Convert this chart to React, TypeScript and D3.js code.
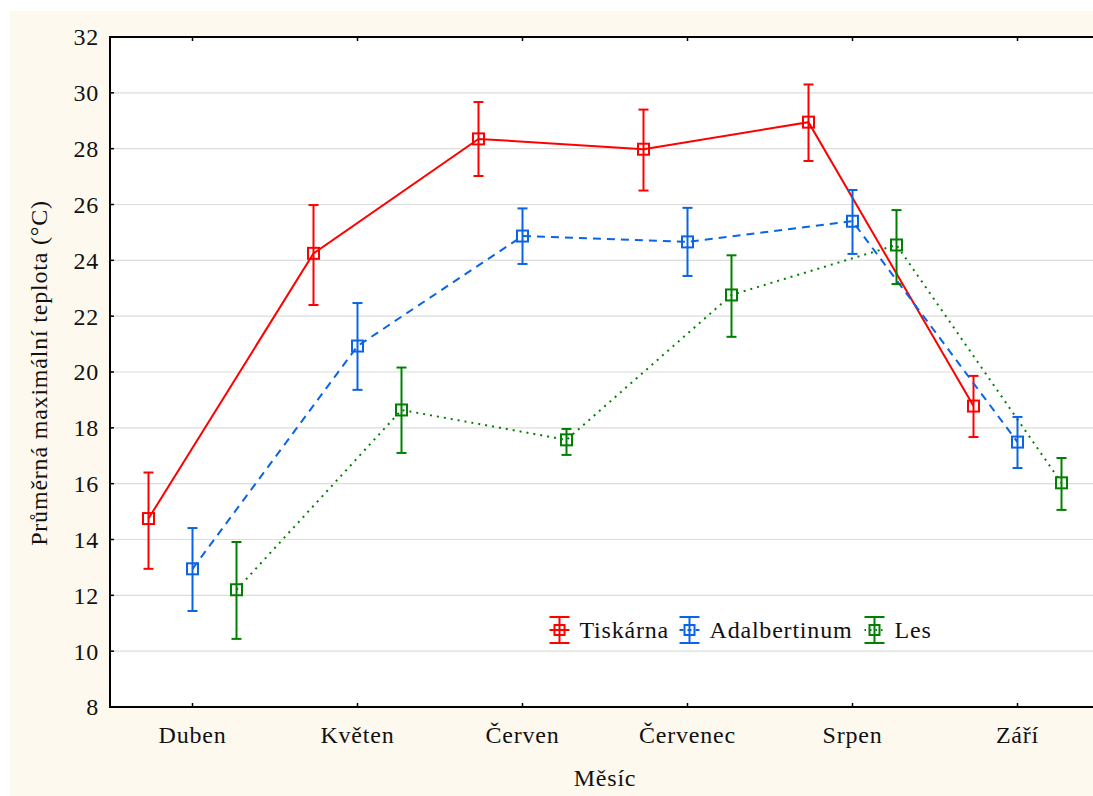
import React from 'react'
import * as d3 from 'd3'

const months = ['Duben', 'Květen', 'Červen', 'Červenec', 'Srpen', 'Září']
const seriesNames = ['Tiskárna', 'Adalbertinum', 'Les']
const yTicks = [8, 10, 12, 14, 16, 18, 20, 22, 24, 26, 28, 30, 32]

// mean, lower and upper end of the error bar per month
const tiskarnaMean = [14.75, 24.25, 28.35, 27.98, 28.95, 18.78]
const tiskarnaLow = [12.95, 22.4, 27.02, 26.5, 27.56, 17.67]
const tiskarnaHigh = [16.4, 25.98, 29.67, 29.4, 30.3, 19.86]

const adalbertinumMean = [12.95, 20.93, 24.87, 24.66, 25.4, 17.49]
const adalbertinumLow = [11.44, 19.36, 23.87, 23.44, 24.23, 16.56]
const adalbertinumHigh = [14.41, 22.47, 25.86, 25.88, 26.52, 18.39]

const lesMean = [12.2, 18.64, 17.57, 22.76, 24.55, 16.03]
const lesLow = [10.44, 17.1, 17.03, 21.26, 23.15, 15.06]
const lesHigh = [13.91, 20.16, 17.96, 24.18, 25.8, 16.92]

const colors = ['#ff0000', '#0a64e6', '#008000']
const dashes = ['none', '8,6', '2,5']

const W = 1093
const H = 796
const left = 110
const right = 1100
const top = 37
const bottom = 707
const txt = { fontFamily: "'Liberation Serif', 'Times New Roman', Times, serif", fontSize: 24, letterSpacing: 0.8 }

const App = () => {
  const x = d3.scaleBand().domain(months).range([left, right]).padding(0)
  const xs = d3.scalePoint().domain(seriesNames).range([-44, 44])
  const y = d3.scaleLinear().domain([8, 32]).range([bottom, top])

  const series = [
    { name: seriesNames[0], mean: tiskarnaMean, low: tiskarnaLow, high: tiskarnaHigh },
    { name: seriesNames[1], mean: adalbertinumMean, low: adalbertinumLow, high: adalbertinumHigh },
    { name: seriesNames[2], mean: lesMean, low: lesLow, high: lesHigh },
  ]

  const cx = (m: string, s: string) => (x(m) as number) + x.bandwidth() / 2 + (xs(s) as number)

  const line = d3.line<[number, number]>().x(d => d[0]).y(d => d[1])

  const legendX = [559.5, 689.5, 874.5]
  const legendY = 630

  return (
    <svg width={W} height={H} style={{ position: 'absolute', left: 0, top: 0, overflow: 'hidden' }}>
      <rect width={W + 20} height={H} fill="#fff" />
      <rect x={10} y={11} width={W + 10} height={H - 11} fill="#fdf9ef" />
      <rect x={left} y={top} width={right - left + 20} height={bottom - top} fill="#fff" />

      {yTicks.map(t => (
        <g key={t}>
          {t > 8 && t < 32 && (
            <line x1={left} x2={right + 20} y1={y(t)} y2={y(t)} stroke="#dcdcdc" strokeWidth={1.2} />
          )}
          <line x1={left} x2={left + 4} y1={y(t)} y2={y(t)} stroke="#000" strokeWidth={1.5} />
          <text x={left - 11} y={y(t)} dy="0.35em" textAnchor="end" fill="#111" style={txt}>
            {t}
          </text>
        </g>
      ))}

      {months.map(m => {
        const c = (x(m) as number) + x.bandwidth() / 2
        return (
          <g key={m}>
            <line x1={c} x2={c} y1={top} y2={top + 4} stroke="#000" strokeWidth={1.5} />
            <line x1={c} x2={c} y1={bottom} y2={bottom - 4} stroke="#000" strokeWidth={1.5} />
            <text x={c} y={743} textAnchor="middle" fill="#111" style={txt}>
              {m}
            </text>
          </g>
        )
      })}

      <path
        d={`M${right + 20},${top}H${left}V${bottom}H${right + 20}`}
        fill="none"
        stroke="#000"
        strokeWidth={2}
      />

      {series.map((s, i) => {
        const pts = months.map((m, j) => [cx(m, s.name), y(s.mean[j])] as [number, number])
        return (
          <g key={s.name} stroke={colors[i]} fill="none">
            <path d={line(pts) || ''} strokeWidth={2} strokeDasharray={dashes[i]} />
            {months.map((m, j) => {
              const px = cx(m, s.name)
              return (
                <g key={m} strokeWidth={2}>
                  <line x1={px} x2={px} y1={y(s.high[j])} y2={y(s.low[j])} />
                  <line x1={px - 5} x2={px + 5} y1={y(s.high[j])} y2={y(s.high[j])} />
                  <line x1={px - 5} x2={px + 5} y1={y(s.low[j])} y2={y(s.low[j])} />
                  <rect x={px - 5.5} y={y(s.mean[j]) - 5.5} width={11} height={11} />
                </g>
              )
            })}
          </g>
        )
      })}

      {series.map((s, i) => {
        const lx = legendX[i]
        return (
          <g key={s.name}>
            <g stroke={colors[i]} fill="none" strokeWidth={2}>
              <line x1={lx} x2={lx} y1={legendY - 13} y2={legendY + 13} />
              <line x1={lx - 10} x2={lx + 10} y1={legendY - 13} y2={legendY - 13} />
              <line x1={lx - 10} x2={lx + 10} y1={legendY + 13} y2={legendY + 13} />
              <line x1={lx - 10} x2={lx + 10} y1={legendY} y2={legendY} strokeDasharray={i === 0 ? 'none' : i === 1 ? '4,4' : '1.5,4'} />
              <rect x={lx - 5} y={legendY - 5} width={10} height={10} />
            </g>
            <text x={lx + 20} y={legendY} dy="0.35em" fill="#111" style={txt}>
              {s.name}
            </text>
          </g>
        )
      })}

      <text x={(left + right) / 2} y={786} textAnchor="middle" fill="#111" style={txt}>
        Měsíc
      </text>
      <text
        transform={`translate(47,${(top + bottom) / 2 + 1}) rotate(-90)`}
        textAnchor="middle"
        fill="#111"
        style={txt}
      >
        Průměrná maximální teplota (°C)
      </text>
    </svg>
  )
}

export default App
